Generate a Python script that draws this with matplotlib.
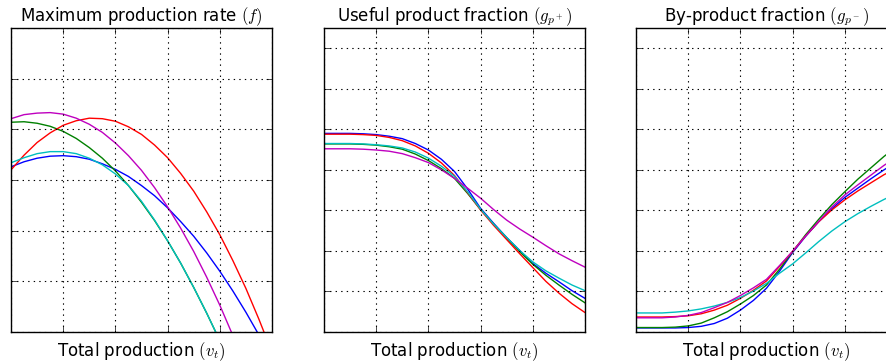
import matplotlib
matplotlib.use('Agg')
import matplotlib.pyplot as plt

plt.style.use('classic')
plt.rcParams['figure.facecolor'] = 'white'
plt.rcParams['savefig.facecolor'] = 'white'
plt.rcParams['mathtext.fontset'] = 'cm'

# total production samples (grid units)
v_t = [0.0, 0.25, 0.5, 0.75, 1.0, 1.25, 1.5, 1.75, 2.0, 2.25, 2.5,
       2.75, 3.0, 3.25, 3.5, 3.75, 4.0, 4.25, 4.5, 4.75, 5.0]

series_names = ['blue', 'green', 'red', 'cyan', 'magenta']
colors = ['b', 'g', 'r', 'c', 'm']

# Maximum production rate (f)
f_blue = [3.26, 3.36, 3.43, 3.47, 3.48, 3.46, 3.41, 3.32, 3.21, 3.07, 2.89,
          2.69, 2.45, 2.18, 1.89, 1.56, 1.20, 0.81, 0.39, -0.06, -0.54]
f_green = [4.14, 4.15, 4.12, 4.06, 3.96, 3.82, 3.64, 3.43, 3.18, 2.89, 2.56,
           2.20, 1.80, 1.36, 0.88, 0.37, -0.17, -0.77, -1.40, -2.06, -2.76]
f_red = [3.20, 3.49, 3.74, 3.93, 4.08, 4.17, 4.22, 4.21, 4.16, 4.05, 3.90,
         3.69, 3.44, 3.13, 2.78, 2.37, 1.92, 1.41, 0.86, 0.25, -0.40]
f_cyan = [3.34, 3.44, 3.52, 3.56, 3.56, 3.52, 3.43, 3.30, 3.12, 2.89, 2.58,
          2.21, 1.80, 1.36, 0.88, 0.37, -0.17, -0.77, -1.40, -2.06, -2.76]
f_magenta = [4.21, 4.29, 4.32, 4.33, 4.30, 4.22, 4.10, 3.94, 3.73, 3.48, 3.19,
             2.85, 2.47, 2.05, 1.59, 1.08, 0.53, -0.07, -0.70, -1.38, -2.11]

# Useful product fraction (g_p+)
gp_blue = [4.90, 4.90, 4.90, 4.89, 4.87, 4.83, 4.77, 4.65, 4.49, 4.26, 3.96,
           3.53, 3.05, 2.68, 2.33, 2.01, 1.69, 1.45, 1.24, 1.02, 0.83]
gp_green = [4.64, 4.64, 4.64, 4.63, 4.61, 4.57, 4.51, 4.39, 4.23, 4.03, 3.79,
            3.42, 3.02, 2.66, 2.32, 1.98, 1.67, 1.40, 1.16, 0.93, 0.72]
gp_red = [4.88, 4.88, 4.88, 4.87, 4.85, 4.80, 4.72, 4.59, 4.41, 4.17, 3.86,
          3.44, 3.01, 2.63, 2.28, 1.93, 1.59, 1.25, 0.96, 0.70, 0.48]
gp_cyan = [4.65, 4.65, 4.65, 4.64, 4.62, 4.59, 4.54, 4.44, 4.29, 4.09, 3.84,
           3.46, 3.03, 2.66, 2.33, 2.01, 1.73, 1.51, 1.33, 1.16, 1.02]
gp_magenta = [4.52, 4.52, 4.52, 4.51, 4.49, 4.46, 4.40, 4.30, 4.18, 4.00, 3.79,
              3.55, 3.30, 3.02, 2.76, 2.54, 2.34, 2.13, 1.93, 1.76, 1.60]

# By-product fraction (g_p-)
gm_blue = [0.10, 0.10, 0.10, 0.10, 0.11, 0.14, 0.21, 0.34, 0.54, 0.78, 1.08,
           1.50, 1.96, 2.36, 2.72, 3.04, 3.32, 3.55, 3.78, 4.00, 4.20]
gm_green = [0.11, 0.11, 0.11, 0.12, 0.15, 0.22, 0.35, 0.50, 0.69, 0.90, 1.16,
            1.55, 1.98, 2.40, 2.78, 3.14, 3.46, 3.77, 4.05, 4.33, 4.58]
gm_red = [0.37, 0.37, 0.37, 0.38, 0.40, 0.45, 0.54, 0.66, 0.83, 1.03, 1.26,
          1.62, 1.99, 2.37, 2.72, 3.01, 3.26, 3.48, 3.68, 3.88, 4.04]
gm_cyan = [0.47, 0.47, 0.47, 0.49, 0.52, 0.57, 0.64, 0.73, 0.85, 1.01, 1.20,
           1.45, 1.68, 1.95, 2.23, 2.49, 2.72, 2.92, 3.10, 3.27, 3.42]
gm_magenta = [0.35, 0.35, 0.35, 0.37, 0.41, 0.48, 0.60, 0.73, 0.90, 1.09, 1.30,
              1.64, 1.99, 2.37, 2.73, 3.08, 3.38, 3.63, 3.87, 4.11, 4.32]

titles = ['Maximum production rate $(f)$',
          'Useful product fraction $(g_{p^+})$',
          'By-product fraction $(g_{p^-})$']
panels = [[f_blue, f_green, f_red, f_cyan, f_magenta],
          [gp_blue, gp_green, gp_red, gp_cyan, gp_magenta],
          [gm_blue, gm_green, gm_red, gm_cyan, gm_magenta]]
ymax = [6, 7.5, 7.5]

fig = plt.figure(figsize=(8.87, 3.62), dpi=100)
lefts = [11 / 887, 324 / 887, 636 / 887]
w, h, b = 261 / 887, 304 / 362, 30 / 362

for i in range(3):
    ax = fig.add_axes([lefts[i], b, w, h])
    for ys, c in zip(panels[i], colors):
        ax.plot(v_t, ys, color=c, lw=1.0)
    ax.set_xlim(0, 5)
    ax.set_ylim(0, ymax[i])
    ax.set_xticks([0, 1, 2, 3, 4, 5])
    ax.set_yticks(list(range(0, int(ymax[i]) + 1)))
    ax.tick_params(labelbottom=False, labelleft=False)
    ax.grid(True, color='k', linestyle=':', linewidth=0.8)
    ax.set_title(titles[i], fontsize=12)
    ax.set_xlabel('Total production $(v_t)$', fontsize=12, labelpad=6)

plt.savefig('out.png', dpi=100)
plt.close()
